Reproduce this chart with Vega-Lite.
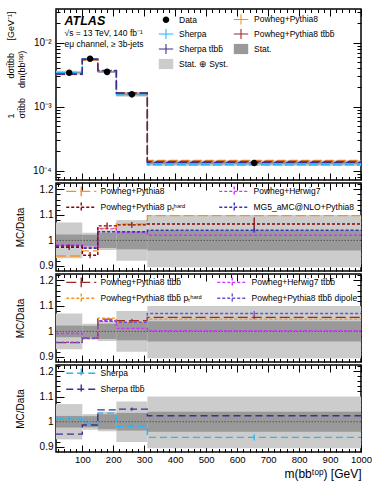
{
  "$schema": "https://vega.github.io/schema/vega-lite/v6.json",
  "padding": {"left": 5, "top": 7, "right": 5, "bottom": 3},
  "autosize": {"type": "pad"},
  "spacing": 3,
  "bounds": "flush",
  "resolve": {
    "scale": {"color": "independent", "stroke": "independent", "shape": "independent", "strokeDash": "independent"},
    "legend": {"color": "independent", "shape": "independent", "strokeDash": "independent", "stroke": "independent"}
  },
  "datasets": {
    "bins": [
      {"lo": 15, "hi": 100, "totLo": 0.00316, "totHi": 0.00364, "statLo": 0.00332, "statHi": 0.00348, "rTotLo": 0.93, "rTotHi": 1.07, "rStatLo": 0.977, "rStatHi": 1.023},
      {"lo": 100, "hi": 150, "totLo": 0.00542, "totHi": 0.00577, "statLo": 0.00548, "statHi": 0.00572, "rTotLo": 0.968, "rTotHi": 1.03, "rStatLo": 0.978, "rStatHi": 1.022},
      {"lo": 150, "hi": 210, "totLo": 0.00338, "totHi": 0.00364, "statLo": 0.0034, "statHi": 0.0036, "rTotLo": 0.962, "rTotHi": 1.04, "rStatLo": 0.97, "rStatHi": 1.03},
      {"lo": 210, "hi": 310, "totLo": 0.001435, "totHi": 0.001685, "statLo": 0.001505, "statHi": 0.001615, "rTotLo": 0.92, "rTotHi": 1.08, "rStatLo": 0.965, "rStatHi": 1.035},
      {"lo": 310, "hi": 1000, "totLo": 0.000118, "totHi": 0.000145, "statLo": 0.0001267, "statHi": 0.0001373, "rTotLo": 0.895, "rTotHi": 1.1, "rStatLo": 0.96, "rStatHi": 1.04}
    ],
    "points": [
      {"series": "Data", "x": 57.5, "y": 0.0034},
      {"series": "Data", "x": 125, "y": 0.0056},
      {"series": "Data", "x": 180, "y": 0.0035},
      {"series": "Data", "x": 260, "y": 0.00156},
      {"series": "Data", "x": 655, "y": 0.000132}
    ],
    "top_mc": [
      {"series": "Sherpa", "x": 15, "y": 0.00344}, {"series": "Sherpa", "x": 100, "y": 0.00556}, {"series": "Sherpa", "x": 150, "y": 0.00362}, {"series": "Sherpa", "x": 210, "y": 0.00153}, {"series": "Sherpa", "x": 310, "y": 0.0001238}, {"series": "Sherpa", "x": 1000, "y": 0.0001238},
      {"series": "Powheg+Pythia8", "x": 15, "y": 0.00319}, {"series": "Powheg+Pythia8", "x": 100, "y": 0.00537}, {"series": "Powheg+Pythia8", "x": 150, "y": 0.00366}, {"series": "Powheg+Pythia8", "x": 210, "y": 0.00166}, {"series": "Powheg+Pythia8", "x": 310, "y": 0.0001448}, {"series": "Powheg+Pythia8", "x": 1000, "y": 0.0001448},
      {"series": "Powheg+Pythia8 tt̄bb̄", "x": 15, "y": 0.00325}, {"series": "Powheg+Pythia8 tt̄bb̄", "x": 100, "y": 0.00545}, {"series": "Powheg+Pythia8 tt̄bb̄", "x": 150, "y": 0.00367}, {"series": "Powheg+Pythia8 tt̄bb̄", "x": 210, "y": 0.00163}, {"series": "Powheg+Pythia8 tt̄bb̄", "x": 310, "y": 0.0001393}, {"series": "Powheg+Pythia8 tt̄bb̄", "x": 1000, "y": 0.0001393},
      {"series": "Sherpa tt̄bb̄", "x": 15, "y": 0.00323}, {"series": "Sherpa tt̄bb̄", "x": 100, "y": 0.00553}, {"series": "Sherpa tt̄bb̄", "x": 150, "y": 0.00366}, {"series": "Sherpa tt̄bb̄", "x": 210, "y": 0.00164}, {"series": "Sherpa tt̄bb̄", "x": 310, "y": 0.0001352}, {"series": "Sherpa tt̄bb̄", "x": 1000, "y": 0.0001352}
    ],
    "r1": [
      {"series": "Powheg+Pythia8", "x": 15, "r": 0.939}, {"series": "Powheg+Pythia8", "x": 100, "r": 0.959}, {"series": "Powheg+Pythia8", "x": 150, "r": 1.047}, {"series": "Powheg+Pythia8", "x": 210, "r": 1.064}, {"series": "Powheg+Pythia8", "x": 310, "r": 1.097}, {"series": "Powheg+Pythia8", "x": 1000, "r": 1.097},
      {"series": "Powheg+Herwig7", "x": 15, "r": 0.982}, {"series": "Powheg+Herwig7", "x": 100, "r": 0.973}, {"series": "Powheg+Herwig7", "x": 150, "r": 1.045}, {"series": "Powheg+Herwig7", "x": 210, "r": 1.031}, {"series": "Powheg+Herwig7", "x": 310, "r": 1.02}, {"series": "Powheg+Herwig7", "x": 1000, "r": 1.02},
      {"series": "MG5_aMC@NLO+Pythia8", "x": 15, "r": 0.978}, {"series": "MG5_aMC@NLO+Pythia8", "x": 100, "r": 0.969}, {"series": "MG5_aMC@NLO+Pythia8", "x": 150, "r": 1.034}, {"series": "MG5_aMC@NLO+Pythia8", "x": 210, "r": 1.034}, {"series": "MG5_aMC@NLO+Pythia8", "x": 310, "r": 1.04}, {"series": "MG5_aMC@NLO+Pythia8", "x": 1000, "r": 1.04},
      {"series": "Powheg+Pythia8 pₜʰᵃʳᵈ", "x": 15, "r": 0.973}, {"series": "Powheg+Pythia8 pₜʰᵃʳᵈ", "x": 100, "r": 0.942}, {"series": "Powheg+Pythia8 pₜʰᵃʳᵈ", "x": 150, "r": 1.057}, {"series": "Powheg+Pythia8 pₜʰᵃʳᵈ", "x": 210, "r": 1.061}, {"series": "Powheg+Pythia8 pₜʰᵃʳᵈ", "x": 310, "r": 1.064}, {"series": "Powheg+Pythia8 pₜʰᵃʳᵈ", "x": 1000, "r": 1.064}
    ],
    "e1": [
      {"series": "Powheg+Pythia8 pₜʰᵃʳᵈ", "x": 57.5, "lo": 0.962, "hi": 0.984},
      {"series": "Powheg+Pythia8 pₜʰᵃʳᵈ", "x": 125, "lo": 0.93, "hi": 0.954},
      {"series": "Powheg+Pythia8 pₜʰᵃʳᵈ", "x": 180, "lo": 1.045, "hi": 1.07},
      {"series": "Powheg+Pythia8 pₜʰᵃʳᵈ", "x": 260, "lo": 1.05, "hi": 1.072},
      {"series": "Powheg+Pythia8 pₜʰᵃʳᵈ", "x": 655, "lo": 1.035, "hi": 1.09},
      {"series": "MG5_aMC@NLO+Pythia8", "x": 655, "lo": 1.03, "hi": 1.05}
    ],
    "r2": [
      {"series": "Powheg+Pythia8 tt̄bb̄", "x": 15, "r": 0.956}, {"series": "Powheg+Pythia8 tt̄bb̄", "x": 100, "r": 0.974}, {"series": "Powheg+Pythia8 tt̄bb̄", "x": 150, "r": 1.048}, {"series": "Powheg+Pythia8 tt̄bb̄", "x": 210, "r": 1.042}, {"series": "Powheg+Pythia8 tt̄bb̄", "x": 310, "r": 1.055}, {"series": "Powheg+Pythia8 tt̄bb̄", "x": 1000, "r": 1.055},
      {"series": "Powheg+Herwig7 tt̄bb̄", "x": 15, "r": 0.992}, {"series": "Powheg+Herwig7 tt̄bb̄", "x": 100, "r": 0.974}, {"series": "Powheg+Herwig7 tt̄bb̄", "x": 150, "r": 1.042}, {"series": "Powheg+Herwig7 tt̄bb̄", "x": 210, "r": 1.012}, {"series": "Powheg+Herwig7 tt̄bb̄", "x": 310, "r": 1.003}, {"series": "Powheg+Herwig7 tt̄bb̄", "x": 1000, "r": 1.003},
      {"series": "Powheg+Pythia8 tt̄bb̄ pₜʰᵃʳᵈ", "x": 15, "r": 0.958}, {"series": "Powheg+Pythia8 tt̄bb̄ pₜʰᵃʳᵈ", "x": 100, "r": 0.972}, {"series": "Powheg+Pythia8 tt̄bb̄ pₜʰᵃʳᵈ", "x": 150, "r": 1.052}, {"series": "Powheg+Pythia8 tt̄bb̄ pₜʰᵃʳᵈ", "x": 210, "r": 1.035}, {"series": "Powheg+Pythia8 tt̄bb̄ pₜʰᵃʳᵈ", "x": 310, "r": 1.048}, {"series": "Powheg+Pythia8 tt̄bb̄ pₜʰᵃʳᵈ", "x": 1000, "r": 1.048},
      {"series": "Powheg+Pythia8 tt̄bb̄ dipole", "x": 15, "r": 0.957}, {"series": "Powheg+Pythia8 tt̄bb̄ dipole", "x": 100, "r": 0.973}, {"series": "Powheg+Pythia8 tt̄bb̄ dipole", "x": 150, "r": 1.04}, {"series": "Powheg+Pythia8 tt̄bb̄ dipole", "x": 210, "r": 1.036}, {"series": "Powheg+Pythia8 tt̄bb̄ dipole", "x": 310, "r": 1.07}, {"series": "Powheg+Pythia8 tt̄bb̄ dipole", "x": 1000, "r": 1.07}
    ],
    "e2": [
      {"series": "Powheg+Pythia8 tt̄bb̄ dipole", "x": 655, "lo": 1.06, "hi": 1.08},
      {"series": "Powheg+Pythia8 tt̄bb̄", "x": 260, "lo": 1.035, "hi": 1.05},
      {"series": "Powheg+Pythia8 tt̄bb̄", "x": 655, "lo": 1.048, "hi": 1.062}
    ],
    "r3": [
      {"series": "Sherpa", "x": 15, "r": 1.011}, {"series": "Sherpa", "x": 100, "r": 0.993}, {"series": "Sherpa", "x": 150, "r": 1.034}, {"series": "Sherpa", "x": 210, "r": 0.982}, {"series": "Sherpa", "x": 310, "r": 0.938}, {"series": "Sherpa", "x": 1000, "r": 0.938},
      {"series": "Sherpa tt̄bb̄", "x": 15, "r": 0.951}, {"series": "Sherpa tt̄bb̄", "x": 100, "r": 0.987}, {"series": "Sherpa tt̄bb̄", "x": 150, "r": 1.047}, {"series": "Sherpa tt̄bb̄", "x": 210, "r": 1.05}, {"series": "Sherpa tt̄bb̄", "x": 310, "r": 1.024}, {"series": "Sherpa tt̄bb̄", "x": 1000, "r": 1.024}
    ],
    "e3": [
      {"series": "Sherpa", "x": 57.5, "lo": 1.0, "hi": 1.022},
      {"series": "Sherpa", "x": 125, "lo": 0.984, "hi": 1.002},
      {"series": "Sherpa", "x": 260, "lo": 0.973, "hi": 0.991},
      {"series": "Sherpa", "x": 655, "lo": 0.926, "hi": 0.95},
      {"series": "Sherpa tt̄bb̄", "x": 260, "lo": 1.044, "hi": 1.056}
    ]
  },
  "vconcat": [
    {
      "width": 305,
      "height": 171,
      "layer": [
        {
          "data": {"name": "bins"},
          "mark": {"type": "rect", "color": "#cccccc"},
          "encoding": {
            "x": {"field": "lo", "type": "quantitative", "scale": {"domain": [15, 1000], "nice": false, "zero": false},
                  "axis": {"orient": "bottom", "values": [100, 200, 300, 400, 500, 600, 700, 800, 900, 1000], "labels": false, "tickSize": -7, "title": null}},
            "x2": {"field": "hi"},
            "y": {"field": "totLo", "type": "quantitative", "scale": {"type": "log", "domain": [7.16e-5, 0.0336], "nice": false},
                  "axis": {"orient": "left", "values": [0.0001, 0.001, 0.01], "tickSize": -8, "labelPadding": 13,
                           "labelExpr": "'10' + (round(log(datum.value)/LN10) == -2 ? '⁻²' : round(log(datum.value)/LN10) == -3 ? '⁻³' : '⁻⁴')",
                           "title": ["1\u00a0\u00a0\u00a0\u00a0\u00a0\u00a0\u00a0\u00a0\u00a0\u00a0\u00a0\u00a0\u00a0\u00a0dσtt̄bb\u00a0\u00a0\u00a0\u00a0\u00a0[GeV⁻¹]", "σtt̄bb\u00a0\u00a0\u00a0\u00a0dm(bbᵗᵒᵖ)"],
                           "titleX": -50, "titleY": 109, "titleAngle": 270, "titleAlign": "left", "titleBaseline": "top", "titleFontSize": 9, "titleLineHeight": 11}},
            "y2": {"field": "totHi"}
          }
        },
        {
          "data": {"name": "bins"},
          "mark": {"type": "rect", "color": "#999999"},
          "encoding": {
            "x": {"field": "lo", "type": "quantitative", "axis": {"orient": "bottom", "values": [20, 40, 60, 80, 120, 140, 160, 180, 220, 240, 260, 280, 320, 340, 360, 380, 420, 440, 460, 480, 520, 540, 560, 580, 620, 640, 660, 680, 720, 740, 760, 780, 820, 840, 860, 880, 920, 940, 960, 980], "labels": false, "tickSize": -3.5, "title": null}},
            "x2": {"field": "hi"},
            "y": {"field": "statLo", "type": "quantitative", "axis": {"orient": "left", "values": [8e-5, 9e-5, 0.0002, 0.0003, 0.0004, 0.0005, 0.0006, 0.0007, 0.0008, 0.0009, 0.002, 0.003, 0.004, 0.005, 0.006, 0.007, 0.008, 0.009, 0.02, 0.03], "labels": false, "tickSize": -4, "title": null}},
            "y2": {"field": "statHi"}
          }
        },
        {
          "data": {"name": "top_mc"},
          "mark": {"type": "line", "interpolate": "step-after", "strokeWidth": 1.4, "strokeDash": [9, 3]},
          "encoding": {
            "x": {"field": "x", "type": "quantitative", "axis": {"orient": "top", "values": [100, 200, 300, 400, 500, 600, 700, 800, 900, 1000], "labels": false, "tickSize": -7,
                  "title": ["√s = 13 TeV, 140 fb⁻¹", "eμ channel, ≥ 3b-jets"], "titleX": 8, "titleY": 19, "titleAngle": 0, "titleAlign": "left", "titleBaseline": "top", "titleFontSize": 8.5, "titleLineHeight": 11}},
            "y": {"field": "y", "type": "quantitative", "axis": {"orient": "right", "values": [0.0001, 0.001, 0.01], "labels": false, "tickSize": -8, "title": null}},
            "stroke": {"field": "series", "type": "nominal", "legend": null,
                       "scale": {"domain": ["Sherpa", "Powheg+Pythia8", "Powheg+Pythia8 tt̄bb̄", "Sherpa tt̄bb̄"], "range": ["#29b6f6", "#f7941d", "#a0282c", "#3b3092"]}},
            "order": {"field": "x", "type": "quantitative"}
          }
        },
        {
          "data": {"name": "points"},
          "mark": {"type": "point", "filled": true, "opacity": 1, "size": 144},
          "encoding": {
            "x": {"field": "x", "type": "quantitative", "axis": {"orient": "top", "values": [20, 40, 60, 80, 120, 140, 160, 180, 220, 240, 260, 280, 320, 340, 360, 380, 420, 440, 460, 480, 520, 540, 560, 580, 620, 640, 660, 680, 720, 740, 760, 780, 820, 840, 860, 880, 920, 940, 960, 980], "labels": false, "tickSize": -3.5,
                  "title": "ATLAS", "titleX": 8, "titleY": 5, "titleAngle": 0, "titleAlign": "left", "titleBaseline": "top", "titleFontSize": 12.5, "titleFontWeight": "bold", "titleFontStyle": "italic"}},
            "y": {"field": "y", "type": "quantitative", "axis": {"orient": "right", "values": [8e-5, 9e-5, 0.0002, 0.0003, 0.0004, 0.0005, 0.0006, 0.0007, 0.0008, 0.0009, 0.002, 0.003, 0.004, 0.005, 0.006, 0.007, 0.008, 0.009, 0.02, 0.03], "labels": false, "tickSize": -4, "title": null}},
            "color": {"field": "series", "type": "nominal",
                      "scale": {"domain": ["Data", "Powheg+Pythia8", "Sherpa", "Powheg+Pythia8 tt̄bb̄", "Sherpa tt̄bb̄", "Stat.", "Stat. ⊕ Syst."],
                                "range": ["#000000", "#f7941d", "#29b6f6", "#a0282c", "#3b3092", "#999999", "#cccccc"]},
                      "legend": {"orient": "none", "direction": "horizontal", "legendX": 104, "legendY": 4, "columns": 2, "title": null, "symbolSize": 144, "rowPadding": 3, "columnPadding": 4, "labelOffset": 7, "labelFontSize": 8.5, "symbolStrokeWidth": 0}},
            "shape": {"field": "series", "type": "nominal",
                      "scale": {"domain": ["Data", "Powheg+Pythia8", "Sherpa", "Powheg+Pythia8 tt̄bb̄", "Sherpa tt̄bb̄", "Stat.", "Stat. ⊕ Syst."],
                                "range": ["M0.55,0A0.55,0.55,0,1,1,-0.55,0A0.55,0.55,0,1,1,0.55,0Z",
                                          "M-1.2,-0.09H1.2V0.09H-1.2Z M-0.09,-0.85H0.09V0.85H-0.09Z",
                                          "M-1.2,-0.09H1.2V0.09H-1.2Z M-0.09,-0.85H0.09V0.85H-0.09Z",
                                          "M-1.2,-0.09H1.2V0.09H-1.2Z M-0.09,-0.85H0.09V0.85H-0.09Z",
                                          "M-1.2,-0.09H1.2V0.09H-1.2Z M-0.09,-0.85H0.09V0.85H-0.09Z",
                                          "M-1.2,-0.85H1.2V0.85H-1.2Z",
                                          "M-1.2,-0.85H1.2V0.85H-1.2Z"]},
                      "legend": {"orient": "none", "direction": "horizontal", "legendX": 104, "legendY": 4, "columns": 2, "title": null, "symbolSize": 144, "rowPadding": 3, "columnPadding": 4, "labelOffset": 7, "labelFontSize": 8.5, "symbolStrokeWidth": 0}}
          }
        }
      ],
      "resolve": {"axis": {"x": "independent", "y": "independent"}}
    },
    {
      "width": 305,
      "height": 88,
      "layer": [
        {
          "data": {"name": "bins"},
          "mark": {"type": "rect", "color": "#cccccc"},
          "encoding": {
            "x": {"field": "lo", "type": "quantitative", "scale": {"domain": [15, 1000], "nice": false, "zero": false},
                  "axis": {"orient": "bottom", "values": [100, 200, 300, 400, 500, 600, 700, 800, 900, 1000], "labels": false, "tickSize": -7, "title": null}},
            "x2": {"field": "hi"},
            "y": {"field": "rTotLo", "type": "quantitative", "scale": {"domain": [0.88, 1.225], "nice": false, "zero": false},
                  "axis": {"orient": "left", "values": [0.9, 1, 1.1, 1.2], "format": "~g", "tickSize": -8, "labelPadding": 11, "title": "MC/Data", "titleX": -31, "titleBaseline": "bottom"}},
            "y2": {"field": "rTotHi"}
          }
        },
        {
          "data": {"name": "bins"},
          "mark": {"type": "rect", "color": "#999999"},
          "encoding": {
            "x": {"field": "lo", "type": "quantitative", "axis": {"orient": "bottom", "values": [20, 40, 60, 80, 120, 140, 160, 180, 220, 240, 260, 280, 320, 340, 360, 380, 420, 440, 460, 480, 520, 540, 560, 580, 620, 640, 660, 680, 720, 740, 760, 780, 820, 840, 860, 880, 920, 940, 960, 980], "labels": false, "tickSize": -3.5, "title": null}},
            "x2": {"field": "hi"},
            "y": {"field": "rStatLo", "type": "quantitative", "axis": {"orient": "left", "values": [0.92, 0.94, 0.96, 0.98, 1.02, 1.04, 1.06, 1.08, 1.12, 1.14, 1.16, 1.18, 1.22], "labels": false, "tickSize": -4, "title": null}},
            "y2": {"field": "rStatHi"}
          }
        },
        {
          "data": {"values": [{"ref": "one"}]},
          "mark": {"type": "rule", "color": "#555555", "strokeDash": [1.5, 1.5], "strokeWidth": 1},
          "encoding": {"y": {"datum": 1, "type": "quantitative", "axis": null}}
        },
        {
          "data": {"name": "r1"},
          "mark": {"type": "line", "interpolate": "step-after", "strokeWidth": 1.4},
          "encoding": {
            "x": {"field": "x", "type": "quantitative", "axis": {"orient": "top", "values": [100, 200, 300, 400, 500, 600, 700, 800, 900, 1000], "labels": false, "tickSize": -7, "title": null}},
            "y": {"field": "r", "type": "quantitative", "axis": {"orient": "right", "values": [0.9, 1, 1.1, 1.2], "labels": false, "tickSize": -8, "title": null}},
            "color": {"field": "series", "type": "nominal",
                      "scale": {"domain": ["Powheg+Pythia8", "Powheg+Herwig7", "Powheg+Pythia8 pₜʰᵃʳᵈ", "MG5_aMC@NLO+Pythia8"], "range": ["#f7941d", "#cc33ff", "#8b0000", "#3b35b5"]},
                      "legend": {"orient": "none", "direction": "horizontal", "legendX": 21, "legendY": 4, "columns": 2, "title": null, "symbolType": "M-7.5,0H7.5M0,-2.4V2.4", "symbolSize": 16, "symbolStrokeWidth": 1.4, "rowPadding": 0, "columnPadding": 30, "labelOffset": 15, "labelFontSize": 8.5}},
            "strokeDash": {"field": "series", "type": "nominal",
                      "scale": {"domain": ["Powheg+Pythia8", "Powheg+Herwig7", "Powheg+Pythia8 pₜʰᵃʳᵈ", "MG5_aMC@NLO+Pythia8"], "range": [[10, 4], [3, 2], [3, 2], [3, 2]]},
                      "legend": {"orient": "none", "direction": "horizontal", "legendX": 21, "legendY": 4, "columns": 2, "title": null, "symbolType": "M-7.5,0H7.5M0,-2.4V2.4", "symbolSize": 16, "symbolStrokeWidth": 1.4, "rowPadding": 0, "columnPadding": 30, "labelOffset": 15, "labelFontSize": 8.5}},
            "order": {"field": "x", "type": "quantitative"}
          }
        },
        {
          "data": {"name": "e1"},
          "mark": {"type": "rule", "strokeWidth": 1.2},
          "encoding": {
            "x": {"field": "x", "type": "quantitative", "axis": {"orient": "top", "values": [20, 40, 60, 80, 120, 140, 160, 180, 220, 240, 260, 280, 320, 340, 360, 380, 420, 440, 460, 480, 520, 540, 560, 580, 620, 640, 660, 680, 720, 740, 760, 780, 820, 840, 860, 880, 920, 940, 960, 980], "labels": false, "tickSize": -3.5, "title": null}},
            "y": {"field": "lo", "type": "quantitative", "axis": {"orient": "right", "values": [0.92, 0.94, 0.96, 0.98, 1.02, 1.04, 1.06, 1.08, 1.12, 1.14, 1.16, 1.18, 1.22], "labels": false, "tickSize": -4, "title": null}},
            "y2": {"field": "hi"},
            "stroke": {"field": "series", "type": "nominal", "legend": null,
                       "scale": {"domain": ["Powheg+Pythia8", "Powheg+Herwig7", "Powheg+Pythia8 pₜʰᵃʳᵈ", "MG5_aMC@NLO+Pythia8"], "range": ["#f7941d", "#cc33ff", "#8b0000", "#3b35b5"]}}
          }
        }
      ],
      "resolve": {"axis": {"x": "independent", "y": "independent"}}
    },
    {
      "width": 305,
      "height": 88,
      "layer": [
        {
          "data": {"name": "bins"},
          "mark": {"type": "rect", "color": "#cccccc"},
          "encoding": {
            "x": {"field": "lo", "type": "quantitative", "scale": {"domain": [15, 1000], "nice": false, "zero": false},
                  "axis": {"orient": "bottom", "values": [100, 200, 300, 400, 500, 600, 700, 800, 900, 1000], "labels": false, "tickSize": -7, "title": null}},
            "x2": {"field": "hi"},
            "y": {"field": "rTotLo", "type": "quantitative", "scale": {"domain": [0.88, 1.225], "nice": false, "zero": false},
                  "axis": {"orient": "left", "values": [0.9, 1, 1.1, 1.2], "format": "~g", "tickSize": -8, "labelPadding": 11, "title": "MC/Data", "titleX": -31, "titleBaseline": "bottom"}},
            "y2": {"field": "rTotHi"}
          }
        },
        {
          "data": {"name": "bins"},
          "mark": {"type": "rect", "color": "#999999"},
          "encoding": {
            "x": {"field": "lo", "type": "quantitative", "axis": {"orient": "bottom", "values": [20, 40, 60, 80, 120, 140, 160, 180, 220, 240, 260, 280, 320, 340, 360, 380, 420, 440, 460, 480, 520, 540, 560, 580, 620, 640, 660, 680, 720, 740, 760, 780, 820, 840, 860, 880, 920, 940, 960, 980], "labels": false, "tickSize": -3.5, "title": null}},
            "x2": {"field": "hi"},
            "y": {"field": "rStatLo", "type": "quantitative", "axis": {"orient": "left", "values": [0.92, 0.94, 0.96, 0.98, 1.02, 1.04, 1.06, 1.08, 1.12, 1.14, 1.16, 1.18, 1.22], "labels": false, "tickSize": -4, "title": null}},
            "y2": {"field": "rStatHi"}
          }
        },
        {
          "data": {"values": [{"ref": "one"}]},
          "mark": {"type": "rule", "color": "#555555", "strokeDash": [1.5, 1.5], "strokeWidth": 1},
          "encoding": {"y": {"datum": 1, "type": "quantitative", "axis": null}}
        },
        {
          "data": {"name": "r2"},
          "mark": {"type": "line", "interpolate": "step-after", "strokeWidth": 1.4},
          "encoding": {
            "x": {"field": "x", "type": "quantitative", "axis": {"orient": "top", "values": [100, 200, 300, 400, 500, 600, 700, 800, 900, 1000], "labels": false, "tickSize": -7, "title": null}},
            "y": {"field": "r", "type": "quantitative", "axis": {"orient": "right", "values": [0.9, 1, 1.1, 1.2], "labels": false, "tickSize": -8, "title": null}},
            "color": {"field": "series", "type": "nominal",
                      "scale": {"domain": ["Powheg+Pythia8 tt̄bb̄", "Powheg+Herwig7 tt̄bb̄", "Powheg+Pythia8 tt̄bb̄ pₜʰᵃʳᵈ", "Powheg+Pythia8 tt̄bb̄ dipole"], "range": ["#a0282c", "#cc33ff", "#f7941d", "#6a4fd0"]},
                      "legend": {"orient": "none", "direction": "horizontal", "legendX": 21, "legendY": 4, "columns": 2, "title": null, "symbolType": "M-7.5,0H7.5M0,-2.4V2.4", "symbolSize": 16, "symbolStrokeWidth": 1.4, "rowPadding": 0, "columnPadding": 12, "labelOffset": 15, "labelFontSize": 8.5}},
            "strokeDash": {"field": "series", "type": "nominal",
                      "scale": {"domain": ["Powheg+Pythia8 tt̄bb̄", "Powheg+Herwig7 tt̄bb̄", "Powheg+Pythia8 tt̄bb̄ pₜʰᵃʳᵈ", "Powheg+Pythia8 tt̄bb̄ dipole"], "range": [[10, 4], [3, 2], [3, 2], [3, 2]]},
                      "legend": {"orient": "none", "direction": "horizontal", "legendX": 21, "legendY": 4, "columns": 2, "title": null, "symbolType": "M-7.5,0H7.5M0,-2.4V2.4", "symbolSize": 16, "symbolStrokeWidth": 1.4, "rowPadding": 0, "columnPadding": 12, "labelOffset": 15, "labelFontSize": 8.5}},
            "order": {"field": "x", "type": "quantitative"}
          }
        },
        {
          "data": {"name": "e2"},
          "mark": {"type": "rule", "strokeWidth": 1.2},
          "encoding": {
            "x": {"field": "x", "type": "quantitative", "axis": {"orient": "top", "values": [20, 40, 60, 80, 120, 140, 160, 180, 220, 240, 260, 280, 320, 340, 360, 380, 420, 440, 460, 480, 520, 540, 560, 580, 620, 640, 660, 680, 720, 740, 760, 780, 820, 840, 860, 880, 920, 940, 960, 980], "labels": false, "tickSize": -3.5, "title": null}},
            "y": {"field": "lo", "type": "quantitative", "axis": {"orient": "right", "values": [0.92, 0.94, 0.96, 0.98, 1.02, 1.04, 1.06, 1.08, 1.12, 1.14, 1.16, 1.18, 1.22], "labels": false, "tickSize": -4, "title": null}},
            "y2": {"field": "hi"},
            "stroke": {"field": "series", "type": "nominal", "legend": null,
                       "scale": {"domain": ["Powheg+Pythia8 tt̄bb̄", "Powheg+Herwig7 tt̄bb̄", "Powheg+Pythia8 tt̄bb̄ pₜʰᵃʳᵈ", "Powheg+Pythia8 tt̄bb̄ dipole"], "range": ["#a0282c", "#cc33ff", "#f7941d", "#6a4fd0"]}}
          }
        }
      ],
      "resolve": {"axis": {"x": "independent", "y": "independent"}}
    },
    {
      "width": 305,
      "height": 87,
      "layer": [
        {
          "data": {"name": "bins"},
          "mark": {"type": "rect", "color": "#cccccc"},
          "encoding": {
            "x": {"field": "lo", "type": "quantitative", "scale": {"domain": [15, 1000], "nice": false, "zero": false},
                  "axis": {"orient": "bottom", "values": [100, 200, 300, 400, 500, 600, 700, 800, 900, 1000], "format": "d", "labels": true, "labelFlush": false, "labelFontSize": 9.5, "tickSize": -7, "labelPadding": 9, "title": "m(bbᵗᵒᵖ) [GeV]", "titleAnchor": "end", "titleFontSize": 12, "titlePadding": 5}},
            "x2": {"field": "hi"},
            "y": {"field": "rTotLo", "type": "quantitative", "scale": {"domain": [0.88, 1.225], "nice": false, "zero": false},
                  "axis": {"orient": "left", "values": [0.9, 1, 1.1, 1.2], "format": "~g", "tickSize": -8, "labelPadding": 11, "title": "MC/Data", "titleX": -31, "titleBaseline": "bottom"}},
            "y2": {"field": "rTotHi"}
          }
        },
        {
          "data": {"name": "bins"},
          "mark": {"type": "rect", "color": "#999999"},
          "encoding": {
            "x": {"field": "lo", "type": "quantitative", "axis": {"orient": "bottom", "values": [20, 40, 60, 80, 120, 140, 160, 180, 220, 240, 260, 280, 320, 340, 360, 380, 420, 440, 460, 480, 520, 540, 560, 580, 620, 640, 660, 680, 720, 740, 760, 780, 820, 840, 860, 880, 920, 940, 960, 980], "labels": false, "tickSize": -3.5, "title": null}},
            "x2": {"field": "hi"},
            "y": {"field": "rStatLo", "type": "quantitative", "axis": {"orient": "left", "values": [0.92, 0.94, 0.96, 0.98, 1.02, 1.04, 1.06, 1.08, 1.12, 1.14, 1.16, 1.18, 1.22], "labels": false, "tickSize": -4, "title": null}},
            "y2": {"field": "rStatHi"}
          }
        },
        {
          "data": {"values": [{"ref": "one"}]},
          "mark": {"type": "rule", "color": "#555555", "strokeDash": [1.5, 1.5], "strokeWidth": 1},
          "encoding": {"y": {"datum": 1, "type": "quantitative", "axis": null}}
        },
        {
          "data": {"name": "r3"},
          "mark": {"type": "line", "interpolate": "step-after", "strokeWidth": 1.4},
          "encoding": {
            "x": {"field": "x", "type": "quantitative", "axis": {"orient": "top", "values": [100, 200, 300, 400, 500, 600, 700, 800, 900, 1000], "labels": false, "tickSize": -7, "title": null}},
            "y": {"field": "r", "type": "quantitative", "axis": {"orient": "right", "values": [0.9, 1, 1.1, 1.2], "labels": false, "tickSize": -8, "title": null}},
            "color": {"field": "series", "type": "nominal",
                      "scale": {"domain": ["Sherpa", "Sherpa tt̄bb̄"], "range": ["#29b6f6", "#3b3092"]},
                      "legend": {"orient": "none", "legendX": 21, "legendY": 4, "columns": 1, "title": null, "symbolType": "M-7.5,0H7.5M0,-2.4V2.4", "symbolSize": 16, "symbolStrokeWidth": 1.4, "rowPadding": 0, "labelOffset": 15, "labelFontSize": 8.5}},
            "strokeDash": {"field": "series", "type": "nominal",
                      "scale": {"domain": ["Sherpa", "Sherpa tt̄bb̄"], "range": [[7, 4], [7, 4]]},
                      "legend": {"orient": "none", "legendX": 21, "legendY": 4, "columns": 1, "title": null, "symbolType": "M-7.5,0H7.5M0,-2.4V2.4", "symbolSize": 16, "symbolStrokeWidth": 1.4, "rowPadding": 0, "labelOffset": 15, "labelFontSize": 8.5}},
            "order": {"field": "x", "type": "quantitative"}
          }
        },
        {
          "data": {"name": "e3"},
          "mark": {"type": "rule", "strokeWidth": 1.2},
          "encoding": {
            "x": {"field": "x", "type": "quantitative", "axis": {"orient": "top", "values": [20, 40, 60, 80, 120, 140, 160, 180, 220, 240, 260, 280, 320, 340, 360, 380, 420, 440, 460, 480, 520, 540, 560, 580, 620, 640, 660, 680, 720, 740, 760, 780, 820, 840, 860, 880, 920, 940, 960, 980], "labels": false, "tickSize": -3.5, "title": null}},
            "y": {"field": "lo", "type": "quantitative", "axis": {"orient": "right", "values": [0.92, 0.94, 0.96, 0.98, 1.02, 1.04, 1.06, 1.08, 1.12, 1.14, 1.16, 1.18, 1.22], "labels": false, "tickSize": -4, "title": null}},
            "y2": {"field": "hi"},
            "stroke": {"field": "series", "type": "nominal", "legend": null,
                       "scale": {"domain": ["Sherpa", "Sherpa tt̄bb̄"], "range": ["#29b6f6", "#3b3092"]}}
          }
        }
      ],
      "resolve": {"axis": {"x": "independent", "y": "independent"}}
    }
  ],
  "config": {
    "font": "Liberation Sans",
    "view": {"stroke": "black", "strokeWidth": 1.5},
    "axis": {"domain": false, "grid": false, "tickColor": "black", "tickWidth": 1, "labelColor": "black", "labelFont": "Liberation Sans", "labelFontSize": 10, "titleFont": "Liberation Sans", "titleFontWeight": "normal", "titleColor": "black", "titleFontSize": 10},
    "legend": {"labelFont": "Liberation Sans", "labelFontSize": 8.5, "labelColor": "black", "labelLimit": 300, "padding": 0}
  }
}
